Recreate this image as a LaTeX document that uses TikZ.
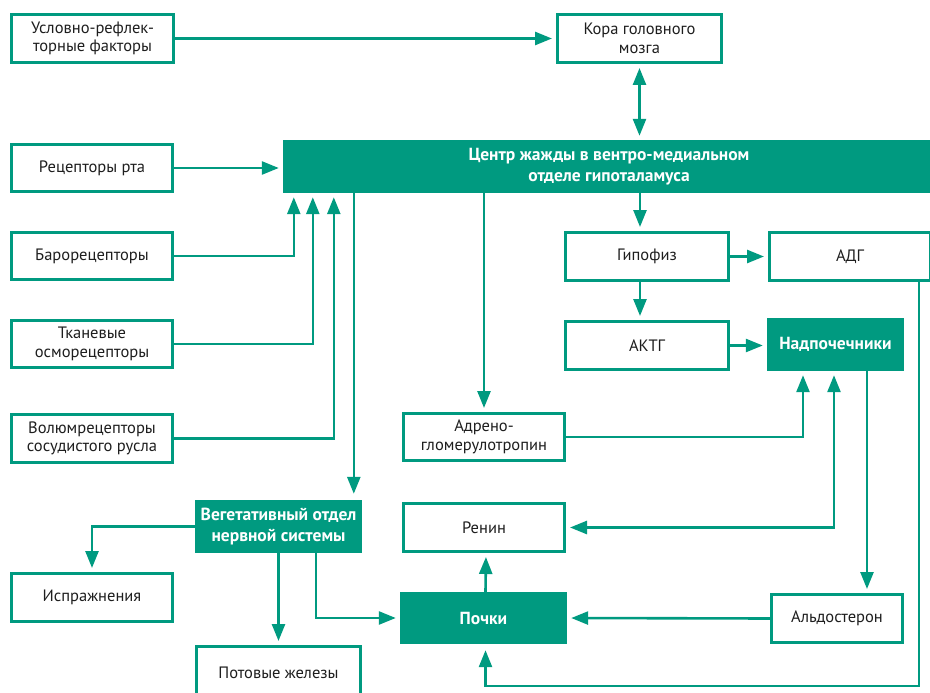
\documentclass[tikz,border=0pt]{standalone}
\usepackage{fontspec}
\setmainfont{PT Sans}
\usetikzlibrary{arrows.meta}
\definecolor{sea}{RGB}{0,154,128}
\definecolor{ink}{RGB}{30,30,30}
\tikzset{
  box/.style={draw=sea, line width=3pt, fill=white, align=center, inner sep=0pt,
    text=ink, font=\fontsize{16.5}{18.5}\selectfont},
  fbox/.style={fill=sea, align=center, inner sep=0pt, text=white,
    font=\bfseries\fontsize{17.5}{21}\selectfont},
  tip/.tip={Triangle[width=13pt,length=17pt]},
  arr/.style={draw=sea, line width=2.6pt, -tip, shorten >=4pt},
  darr/.style={draw=sea, line width=2.6pt, tip-tip, shorten >=4pt, shorten <=4pt},
}
\begin{document}
\begin{tikzpicture}[x=1pt,y=-1pt]
\useasboundingbox (0,0) rectangle (930,693);

% left column: receptor inputs
\node[box, minimum width=162pt, minimum height=48pt] (usl) at (92.5,38.5) {Условно-рефлек-\\торные факторы};
\node[box, minimum width=161pt, minimum height=47pt] (rec) at (92,168) {Рецепторы рта};
\node[box, minimum width=161pt, minimum height=47pt] (baro) at (92,256) {Барорецепторы};
\node[box, minimum width=161pt, minimum height=47pt] (tkan) at (92,344) {Тканевые\\осморецепторы};
\node[box, minimum width=161pt, minimum height=48pt] (vol) at (92,438.5) {Волюмрецепторы\\сосудистого русла};
\node[box, minimum width=161pt, minimum height=48pt] (ispr) at (92,597.5) {Испражнения};

% cortex and thirst centre
\node[box, minimum width=164pt, minimum height=48pt] (kora) at (639.5,38.5) {Кора головного\\мозга};
\node[fbox, minimum width=652pt, minimum height=53pt] (zh) at (609,166.5) {Центр жажды в вентро-медиальном\\отделе гипоталамуса};

% hormonal branch
\node[box, minimum width=163pt, minimum height=48pt] (gip) at (647,256.5) {Гипофиз};
\node[box, minimum width=161pt, minimum height=48pt] (adg) at (850,256.5) {АДГ};
\node[box, minimum width=163pt, minimum height=48pt] (aktg) at (647,345.5) {АКТГ};
\node[fbox, minimum width=137pt, minimum height=53pt] (nadp) at (835.5,344.5) {Надпочечники};
\node[box, minimum width=161pt, minimum height=47pt] (adreno) at (484,437) {Адрено-\\гломерулотропин};
\node[box, minimum width=161pt, minimum height=48pt] (renin) at (484,527.5) {Ренин};
\node[fbox, minimum width=167pt, minimum height=52pt] (pochki) at (483.5,618) {Почки};
\node[box, minimum width=131pt, minimum height=48pt] (aldo) at (837,618.5) {Альдостерон};

% autonomic branch
\node[fbox, minimum width=167pt, minimum height=53pt] (veg) at (278.5,526.5) {Вегетативный отдел\\нервной системы};
\node[box, minimum width=164pt, minimum height=52pt] (pot) at (278.5,672.5) {Потовые железы};

% connectors
\draw[arr] (usl.east) -- (kora.west);
\draw[arr] (rec.east) -- (rec.east -| zh.west);
\draw[arr] (baro.east) -| ([xshift=11pt]zh.south west);
\draw[arr] (tkan.east) -| ([xshift=30pt]zh.south west);
\draw[arr] (vol.east) -| ([xshift=51pt]zh.south west);
\draw[arr, shorten >=6pt] ([xshift=71pt]zh.south west) -- ([xshift=71pt]zh.south west |- veg.north);
\draw[darr] (kora.south) -- (kora.south |- zh.north);
\draw[arr] (zh.south -| adreno.north) -- (adreno.north);
\draw[arr] ([xshift=-7pt]gip.north |- zh.south) -- ([xshift=-7pt]gip.north);
\draw[arr] (gip.east) -- (adg.west);
\draw[arr] ([xshift=-7pt]gip.south) -- ([xshift=-7pt]aktg.north);
\draw[arr] (aktg.east) -- (aktg.east -| nadp.west);
\draw[arr, shorten >=6pt] ([xshift=69pt]adg.south) -- ++(0,404) -| ([xshift=2pt]pochki.south);
\draw[arr] (adreno.east) -| ([xshift=-32.5pt]nadp.south);
\draw[darr] (renin.east) -| ([xshift=-1.5pt]nadp.south);
\draw[arr] ([xshift=31.5pt]nadp.south) -- ([xshift=31.5pt]nadp.south |- aldo.north);
\draw[arr] (aldo.west) -- (pochki.east);
\draw[arr] ([xshift=2pt]pochki.north) -- ([xshift=2pt]renin.south);
\draw[arr] (veg.west) -| (ispr.north);
\draw[arr] (veg.south) -- (pot.north);
\draw[arr] ([xshift=37.5pt]veg.south) |- (pochki.west);
\end{tikzpicture}
\end{document}
